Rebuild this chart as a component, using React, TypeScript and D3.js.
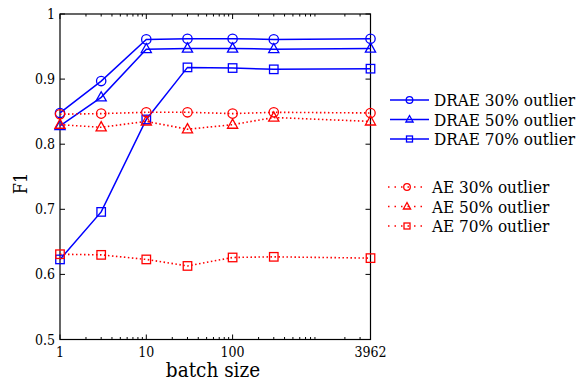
import React, { useRef, useEffect } from "react";
import * as d3 from "d3";

const batchSizes = [1, 3, 10, 30, 100, 300, 3962];
const drae30 = [0.848, 0.897, 0.961, 0.962, 0.962, 0.961, 0.962];
const drae50 = [0.828, 0.872, 0.946, 0.947, 0.947, 0.946, 0.947];
const drae70 = [0.623, 0.696, 0.838, 0.918, 0.917, 0.915, 0.916];
const ae30 = [0.846, 0.847, 0.849, 0.849, 0.847, 0.849, 0.848];
const ae50 = [0.830, 0.826, 0.835, 0.823, 0.830, 0.841, 0.835];
const ae70 = [0.631, 0.630, 0.623, 0.613, 0.626, 0.627, 0.625];
const xTicks = [1, 10, 100, 3962];
const yTicks = [0.5, 0.6, 0.7, 0.8, 0.9, 1];

type Marker = "circle" | "triangle" | "square";
interface Series {
  name: string;
  values: number[];
  color: string;
  marker: Marker;
  dotted: boolean;
}

const series: Series[] = [
  { name: "DRAE 30% outlier", values: drae30, color: "#0000ff", marker: "circle", dotted: false },
  { name: "DRAE 50% outlier", values: drae50, color: "#0000ff", marker: "triangle", dotted: false },
  { name: "DRAE 70% outlier", values: drae70, color: "#0000ff", marker: "square", dotted: false },
  { name: "AE 30% outlier", values: ae30, color: "#ff0000", marker: "circle", dotted: true },
  { name: "AE 50% outlier", values: ae50, color: "#ff0000", marker: "triangle", dotted: true },
  { name: "AE 70% outlier", values: ae70, color: "#ff0000", marker: "square", dotted: true },
];

const font = '"DejaVu Serif Condensed", "DejaVu Serif", serif';

function drawMarker(g: any, kind: Marker, cx: number, cy: number, color: string, s: number) {
  if (kind === "circle") {
    g.append("circle").attr("cx", cx).attr("cy", cy).attr("r", s * 0.55)
      .attr("fill", "none").attr("stroke", color).attr("stroke-width", 1.3);
  } else if (kind === "square") {
    g.append("rect").attr("x", cx - s / 2).attr("y", cy - s / 2).attr("width", s).attr("height", s)
      .attr("fill", "none").attr("stroke", color).attr("stroke-width", 1.3);
  } else {
    const h = s * 0.6;
    g.append("path")
      .attr("d", `M${cx},${cy - h * 1.1}L${cx + h},${cy + h * 0.7}L${cx - h},${cy + h * 0.7}Z`)
      .attr("fill", "none").attr("stroke", color).attr("stroke-width", 1.3);
  }
}

const Chart: React.FC = () => {
  const ref = useRef<SVGSVGElement | null>(null);

  useEffect(() => {
    if (!ref.current) return;
    const svg = d3.select(ref.current);
    svg.selectAll("*").remove();

    const left = 60, top = 14, right = 370.5, bottom = 339.5;
    const x = d3.scaleLog().domain([1, 3962]).range([left, right]);
    const y = d3.scaleLinear().domain([0.5, 1]).range([bottom, top]);

    const g = svg.append("g").style("font-family", font).style("font-stretch", "condensed");

    // box
    g.append("rect").attr("x", left).attr("y", top).attr("width", right - left).attr("height", bottom - top)
      .attr("fill", "none").attr("stroke", "#000").attr("stroke-width", 1.2);

    // minor x ticks
    const minor: number[] = [];
    for (let d = 1; d <= 1000; d *= 10) {
      for (let k = 2; k <= 9; k++) if (d * k < 3962) minor.push(d * k);
    }
    minor.forEach(v => {
      g.append("line").attr("x1", x(v)).attr("x2", x(v)).attr("y1", bottom).attr("y2", bottom - 2.5).attr("stroke", "#000");
      g.append("line").attr("x1", x(v)).attr("x2", x(v)).attr("y1", top).attr("y2", top + 2.5).attr("stroke", "#000");
    });
    xTicks.forEach(v => {
      g.append("line").attr("x1", x(v)).attr("x2", x(v)).attr("y1", bottom).attr("y2", bottom - 5).attr("stroke", "#000");
      g.append("line").attr("x1", x(v)).attr("x2", x(v)).attr("y1", top).attr("y2", top + 5).attr("stroke", "#000");
      g.append("text").attr("x", x(v)).attr("y", bottom + 17).attr("text-anchor", "middle")
        .attr("font-size", 14).text(String(v));
    });
    yTicks.forEach(v => {
      g.append("line").attr("x1", left).attr("x2", left + 5).attr("y1", y(v)).attr("y2", y(v)).attr("stroke", "#000");
      g.append("line").attr("x1", right).attr("x2", right - 5).attr("y1", y(v)).attr("y2", y(v)).attr("stroke", "#000");
      g.append("text").attr("x", left - 5).attr("y", y(v) + 5).attr("text-anchor", "end")
        .attr("font-size", 14).text(String(v));
    });

    g.append("text").attr("x", 213).attr("y", 377).attr("text-anchor", "middle")
      .attr("font-size", 20.5).text("batch size");
    g.append("text").attr("transform", `translate(27,183.5) rotate(-90)`)
      .attr("text-anchor", "middle").attr("font-size", 18).text("F1");

    const line = d3.line<number>().x((_, i) => x(batchSizes[i])).y(d => y(d));

    series.forEach(s => {
      g.append("path").datum(s.values).attr("d", line).attr("fill", "none")
        .attr("stroke", s.color).attr("stroke-width", s.dotted ? 1.6 : 1.5)
        .attr("stroke-dasharray", s.dotted ? "1.5,2.5" : null);
      s.values.forEach((v, i) => drawMarker(g, s.marker, x(batchSizes[i]), y(v), s.color, 8.5));
    });

    // legend
    series.forEach((s, i) => {
      const ly = s.dotted ? 187 + (i - 3) * 19.5 : 100 + i * 19.5;
      const x1 = s.dotted ? 388 : 390;
      const x2 = s.dotted ? 426 : 429;
      g.append("line").attr("x1", x1).attr("x2", x2).attr("y1", ly).attr("y2", ly)
        .attr("stroke", s.color).attr("stroke-width", 1.5)
        .attr("stroke-dasharray", s.dotted ? "1.5,5" : null);
      drawMarker(g, s.marker, (x1 + x2) / 2, ly, s.color, 6);
      g.append("text").attr("x", s.dotted ? 432 : 434).attr("y", ly + 6)
        .attr("font-size", 17).text(s.name);
    });
  }, []);

  return <svg ref={ref} width={586} height={381} style={{ display: "block" }} />;
};

export default function App() {
  return (
    <div style={{ position: "absolute", left: 0, top: 0, background: "#fff" }}>
      <Chart />
    </div>
  );
}
